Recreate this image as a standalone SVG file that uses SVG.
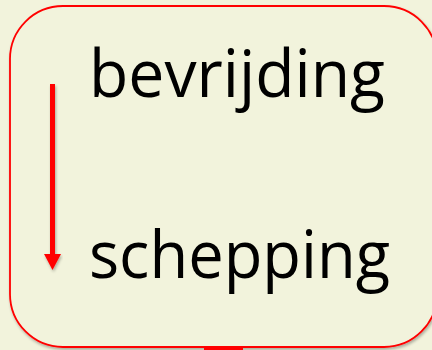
<svg xmlns="http://www.w3.org/2000/svg" width="432" height="350" viewBox="0 0 432 350">
<style>
.lbl{font-family:"Open Sans","Liberation Sans",sans-serif;font-size:66px;fill:#000}
</style>
<defs>
<filter id="sh" x="-10%" y="-10%" width="120%" height="120%">
<feGaussianBlur in="SourceAlpha" stdDeviation="1.5"/>
<feOffset dx="1" dy="1.5" result="b"/>
<feComponentTransfer><feFuncA type="linear" slope="0.3"/></feComponentTransfer>
<feMerge><feMergeNode/><feMergeNode in="SourceGraphic"/></feMerge>
</filter>
</defs>
<rect width="432" height="350" fill="#F2F3DC"/>
<g id="box">
<rect x="10" y="6" width="427" height="341" rx="53" ry="53" fill="#F2F3DC" stroke="#FF0000" stroke-width="1.8" filter="url(#sh)"/>
<rect x="204" y="347" width="39" height="3" fill="#FF0000"/>
</g>
<g id="bevrijding"><text class="lbl" x="89" y="97" textLength="296" lengthAdjust="spacingAndGlyphs">bevrijding</text></g>
<g id="schepping"><text class="lbl" x="89" y="278" textLength="301" lengthAdjust="spacingAndGlyphs">schepping</text></g>
<g id="connectors" filter="url(#sh)">
<rect x="50" y="84" width="5" height="171" fill="#FF0000"/>
<polygon points="44,254 61,254 52.5,270" fill="#FF0000"/>
</g>
</svg>
